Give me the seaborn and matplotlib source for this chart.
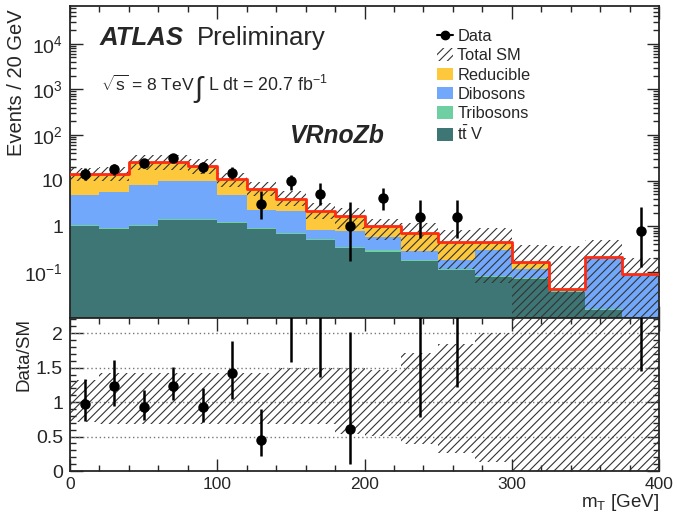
import numpy as np
import pandas as pd
import seaborn as sns
import matplotlib
matplotlib.use("Agg")
import matplotlib.pyplot as plt
from matplotlib.ticker import FixedLocator, FuncFormatter, MultipleLocator, NullFormatter
from matplotlib.patches import Patch
from matplotlib.lines import Line2D

# bin edges in GeV (20 GeV up to 200, then 25 GeV)
edges = [0, 20, 40, 60, 80, 100, 120, 140, 160, 180, 200,
         225, 250, 275, 300, 325, 350, 375, 400]

ttv = [1.0, 0.87, 1.0, 1.35, 1.35, 1.18, 0.88, 0.69, 0.51, 0.34, 0.28, 0.17,
       0.112, 0.077, 0.071, 0.037, 0.0145, 0.0]
tribosons = [0.06, 0.05, 0.06, 0.08, 0.08, 0.07, 0.05, 0.04, 0.03, 0.02, 0.016,
             0.01, 0.007, 0.005, 0.004, 0.003, 0.001, 0.0]
dibosons = [3.74, 4.73, 7.14, 8.27, 8.27, 3.55, 1.39, 1.47, 0.31, 0.44, 0.284,
            0.11, 0.067, 0.228, 0.043, 0.0, 0.2005, 0.09]
reducible = [9.2, 8.65, 17.5, 16.0, 11.3, 5.8, 4.38, 1.85, 1.28, 0.86, 0.42,
             0.41, 0.264, 0.14, 0.048, 0.002, 0.0, 0.0]

# relative uncertainty on total SM (up / down)
unc_up = [0.32, 0.42, 0.42, 0.42, 0.42, 0.42, 0.42, 0.50, 0.50, 0.50, 0.47,
          0.71, 0.85, 1.0, 1.3, 8.0, 1.3, 1.2]
unc_dn = [0.29, 0.32, 0.32, 0.32, 0.32, 0.32, 0.32, 0.32, 0.32, 0.47, 0.49,
          0.61, 0.74, 0.87, 1.0, 1.0, 1.0, 1.0]

nan = np.nan
data = [13.7, 17.7, 24.0, 31.7, 19.5, 15.0, 3.05, 9.7, 5.2, 1.0, 4.2, 1.6, 1.6,
        nan, nan, nan, nan, 0.78]
data_lo = [3.6, 4.3, 4.9, 5.4, 4.6, 3.9, 1.6, 3.3, 2.3, 0.83, 1.9, 1.05, 1.05,
           nan, nan, nan, nan, 0.65]
data_hi = [5.0, 5.3, 6.1, 7.2, 5.9, 5.0, 3.0, 3.4, 3.7, 2.35, 2.8, 2.2, 2.2,
           nan, nan, nan, nan, 1.9]

processes = ["Reducible", "Dibosons", "Tribosons", "ttV"]
colors = {"Reducible": "#fdc83c", "Dibosons": "#72a8fb",
          "Tribosons": "#6dcfa2", "ttV": "#3e7575"}
red = "#ff2a10"

sns.set_style("ticks")
plt.rcParams["font.family"] = ["Liberation Sans", "DejaVu Sans"]
plt.rcParams["mathtext.fontset"] = "custom"
plt.rcParams["mathtext.rm"] = "Liberation Sans"
plt.rcParams["mathtext.it"] = "Liberation Sans:italic"
plt.rcParams["mathtext.bf"] = "Liberation Sans:bold"
plt.rcParams["hatch.linewidth"] = 0.8
plt.rcParams["axes.linewidth"] = 1.3

edges_a = np.array(edges, dtype=float)
centers = 0.5 * (edges_a[1:] + edges_a[:-1])
total = np.array(ttv) + np.array(tribosons) + np.array(dibosons) + np.array(reducible)

rows = []
for name, vals in zip(processes, [reducible, dibosons, tribosons, ttv]):
    for c, v in zip(centers, vals):
        rows.append((c, v, name))
df = pd.DataFrame(rows, columns=["mT", "w", "process"])

W, H = 677, 513
fig = plt.figure(figsize=(W / 100, H / 100), dpi=100)
ax = fig.add_axes([70 / W, 1 - 318 / H, 589 / W, 312 / H])
rax = fig.add_axes([70 / W, 1 - 471 / H, 589 / W, 153 / H])

sns.histplot(data=df, x="mT", weights="w", hue="process", hue_order=processes,
             bins=edges, multiple="stack", element="step", palette=colors,
             alpha=1, linewidth=0, legend=False, ax=ax)
ax.set_yscale("log")

# uncertainty band
hi = total * (1 + np.array(unc_up))
lo = total * (1 - np.array(unc_dn))
ax.fill_between(edges_a, np.append(lo, lo[-1]), np.append(hi, hi[-1]), step="post",
                facecolor="none", edgecolor="#333333", hatch="////", linewidth=0, zorder=3)

# total SM line
sns.lineplot(x=edges_a, y=np.append(total, total[-1]), drawstyle="steps-post",
             color=red, linewidth=2, ax=ax, zorder=4)

ax.errorbar(centers, data, yerr=[data_lo, data_hi], fmt="o", color="black",
            ms=6.5, elinewidth=1.8, capsize=0, zorder=5)

ax.set_xlim(0, 400)
ax.set_ylim(0.0098, 6.7e4)
ax.set_xlabel("")
ax.set_ylabel("Events / 20 GeV", loc="top", fontsize=14.5)
ax.yaxis.set_label_coords(-0.075, 0.99)

def logfmt(v, pos):
    e = int(round(np.log10(v)))
    if e <= -2:
        return ""
    if e == 0:
        return "1"
    if e == 1:
        return "10"
    return r"$10^{%d}$" % e

ax.yaxis.set_major_locator(FixedLocator([1e-2, 1e-1, 1, 10, 1e2, 1e3, 1e4]))
ax.yaxis.set_major_formatter(FuncFormatter(logfmt))
minors = [m * 10.0 ** e for e in range(-2, 5) for m in range(2, 10)]
ax.yaxis.set_minor_locator(FixedLocator(minors))
ax.yaxis.set_minor_formatter(NullFormatter())
ax.xaxis.set_major_locator(MultipleLocator(100))
ax.xaxis.set_minor_locator(MultipleLocator(20))
ax.tick_params(which="both", direction="in", top=True, right=True, labelbottom=False,
               labelsize=14, pad=5)
ax.tick_params(which="major", length=9, width=1)
ax.tick_params(which="minor", length=4.5, width=1)

# text
fig.text(100 / W, 1 - 45 / H, "ATLAS", fontsize=18.5, fontweight="bold",
         fontstyle="italic", va="baseline")
fig.text(197 / W, 1 - 45 / H, "Preliminary", fontsize=18.5, va="baseline")
fig.text(101 / W, 1 - 91 / H, r"$\sqrt{\mathrm{s}}$ = 8 TeV", fontsize=12.6, va="baseline")
fig.text(193 / W, 1 - 97 / H, r"$\int$", fontsize=21, va="baseline")
fig.text(208 / W, 1 - 91 / H, r"L dt = 20.7 fb$^{\mathrm{-1}}$", fontsize=12.8, va="baseline")
fig.text(290 / W, 1 - 143 / H, "VRnoZb", fontsize=17.8, fontweight="bold",
         fontstyle="italic", va="baseline")

handles = [
    Line2D([0], [0], color="black", marker="o", ms=6, lw=1.5),
    Patch(facecolor="white", edgecolor="#333333", hatch="////", linewidth=0),
    Patch(facecolor=colors["Reducible"], linewidth=0),
    Patch(facecolor=colors["Dibosons"], linewidth=0),
    Patch(facecolor=colors["Tribosons"], linewidth=0),
    Patch(facecolor=colors["ttV"], linewidth=0),
]
labels = ["Data", "Total SM", "Reducible", "Dibosons", "Tribosons", r"$\mathrm{t\bar{t}}$ V"]
ax.legend(handles, labels, loc="upper left", bbox_to_anchor=(437 / W, 1 - 29 / H),
          bbox_transform=fig.transFigure, frameon=False, fontsize=11.8,
          handlelength=1.0, handleheight=0.8, handletextpad=0.25,
          labelspacing=0.26, borderpad=0, borderaxespad=0)

# ratio panel
ratio = np.array(data) / total
r_lo = np.array(data_lo) / total
r_hi = np.array(data_hi) / total
for g in [0.5, 1.0, 1.5, 2.0]:
    rax.axhline(g, color="#777777", linestyle=(0, (1, 2)), linewidth=1, zorder=1)
rlo = 1 - np.array(unc_dn)
rhi = 1 + np.array(unc_up)
rax.fill_between(edges_a, np.append(rlo, rlo[-1]), np.append(rhi, rhi[-1]), step="post",
                 facecolor="none", edgecolor="#333333", hatch="////", linewidth=0, zorder=2)
rax.errorbar(centers, ratio, yerr=[r_lo, r_hi], fmt="o", color="black",
             ms=6.5, elinewidth=1.8, capsize=0, zorder=5)
rax.set_xlim(0, 400)
rax.set_ylim(0, 2.22)
rax.xaxis.set_major_locator(MultipleLocator(100))
rax.xaxis.set_minor_locator(MultipleLocator(20))
rax.yaxis.set_major_locator(FixedLocator([0, 0.5, 1, 1.5, 2]))
rax.yaxis.set_major_formatter(FuncFormatter(lambda v, p: "%g" % v))
rax.yaxis.set_minor_locator(MultipleLocator(0.1))
rax.tick_params(which="both", direction="in", top=True, right=True)
rax.tick_params(axis="y", labelsize=14, pad=5)
rax.tick_params(axis="x", labelsize=12.5, pad=4)
rax.tick_params(which="major", length=9, width=1)
rax.tick_params(which="minor", length=4.5, width=1)
rax.set_ylabel("Data/SM", loc="top", fontsize=13.5)
rax.yaxis.set_label_coords(-0.064, 1.0)
rax.set_xlabel(r"m$_{\mathrm{T}}$ [GeV]", loc="right", fontsize=13.5)
rax.xaxis.set_label_coords(1.0, -0.14)

fig.savefig("out.png", dpi=100)
